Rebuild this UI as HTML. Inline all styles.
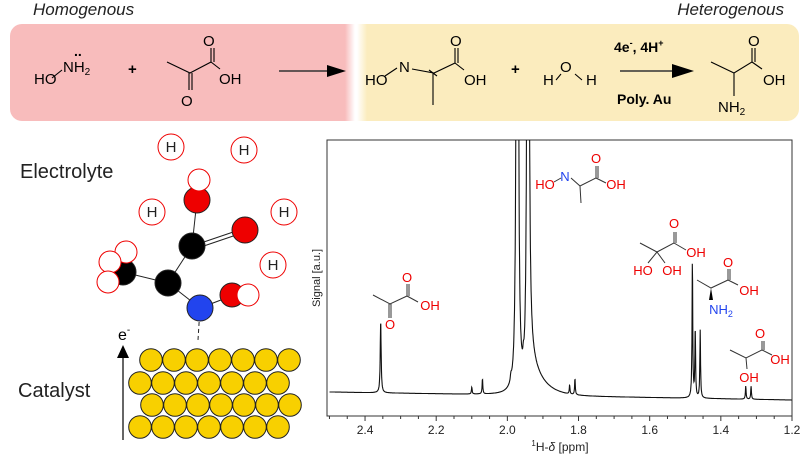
<!DOCTYPE html><html><head><style>
body{margin:0;width:811px;height:456px;background:#fff;overflow:hidden;font-family:"Liberation Sans",sans-serif}
</style></head><body>
<svg width="811" height="456" xmlns="http://www.w3.org/2000/svg" font-family="Liberation Sans, sans-serif">
<defs><linearGradient id="g" x1="0" x2="1"><stop offset="0" stop-color="#f8bcbc"/><stop offset="0.45" stop-color="#fff"/><stop offset="0.55" stop-color="#fff"/><stop offset="1" stop-color="#fbecbe"/></linearGradient></defs>
<text x="33" y="15" font-size="17" font-style="italic" fill="#222">Homogenous</text>
<text x="784" y="15" font-size="17" font-style="italic" fill="#222" text-anchor="end">Heterogenous</text>
<rect x="10" y="24" width="350" height="97" rx="12" fill="#f8bcbc"/>
<rect x="355" y="24" width="444" height="97" rx="12" fill="#fbecbe"/>
<rect x="345" y="24" width="22" height="97" fill="url(#g)"/>
<g font-size="15" fill="#000">
<text x="34" y="84">HO</text><text x="63" y="72">NH<tspan font-size="10" dy="3">2</tspan></text><text x="74" y="56" font-size="14" font-weight="bold">..</text>
<text x="128" y="74" font-weight="bold">+</text>
<text x="219" y="84">OH</text><text x="181" y="106">O</text><text x="203" y="46">O</text>
<text x="365" y="85">HO</text><text x="399" y="72">N</text><text x="464" y="85">OH</text><text x="450" y="46">O</text>
<text x="511" y="74" font-weight="bold">+</text>
<text x="543" y="85">H</text><text x="560" y="72">O</text><text x="586" y="85">H</text>
<text x="763" y="85">OH</text><text x="718" y="112">NH<tspan font-size="10" dy="3">2</tspan></text><text x="748" y="46">O</text>
</g>
<g stroke="#000" stroke-width="1.1" fill="none">
<path d="M385 76 L397 68 M412 69 L434 73 L455 63 L455 48 M458 63 L458 48 M455 63 L464 70 M433 73 L433 105 M429 70 L437 76"/>
<path d="M52 78 L62 70"/>
<path d="M167 62 L190 73 L211 62 L211 48 M214 62 L214 48 M211 62 L220 69 M189 73 L189 90 M192 73 L192 90"/>
<path d="M711 62 L734 73 L752 62 L752 48 M755 62 L755 48 M752 62 L762 69 M734 73 L734 96"/>
<path d="M556 80 L561 74 M575 74 L582 80"/>
</g>
<line x1="279" y1="71" x2="330" y2="71" stroke="#333" stroke-width="1.5"/><path d="M327 65 L346 71 L327 77Z" fill="#000"/>
<line x1="620" y1="71" x2="675" y2="71" stroke="#333" stroke-width="1.5"/><path d="M672 64 L694 71 L672 78Z" fill="#000"/>
<text x="614" y="52" font-size="14" font-weight="bold">4e<tspan font-size="9" dy="-6">-</tspan><tspan dy="6">, 4H</tspan><tspan font-size="9" dy="-6">+</tspan></text>
<text x="617" y="104" font-size="14" font-weight="bold">Poly. Au</text>

<text x="20" y="178" font-size="20" fill="#222">Electrolyte</text>
<text x="18" y="397" font-size="20" fill="#222">Catalyst</text>
<line x1="123" y1="440" x2="123" y2="356" stroke="#000" stroke-width="1.2"/><path d="M117 358 L123 345 L129 358Z"/>
<text x="118" y="340" font-size="16">e<tspan font-size="10" dy="-7">-</tspan></text>
<g fill="#f8d000" stroke="#222" stroke-width="1" id="au"></g>
<g stroke="#222" stroke-width="1">
<line x1="197" y1="200" x2="192" y2="246"/><line x1="192" y1="246" x2="245" y2="228"/><line x1="192" y1="250" x2="245" y2="232"/>
<line x1="192" y1="246" x2="168" y2="283"/><line x1="168" y1="283" x2="123" y2="272"/><line x1="168" y1="283" x2="200" y2="308"/>
<line x1="200" y1="308" x2="234" y2="295"/><line x1="200" y1="308" x2="198" y2="340" stroke-dasharray="4,3"/>
</g>
<g stroke="#e00" fill="#fff">
<circle cx="171" cy="147" r="13"/><circle cx="244" cy="150" r="13"/><circle cx="152" cy="212" r="13"/><circle cx="284" cy="212" r="13"/><circle cx="273" cy="265" r="13"/>
</g>
<g font-size="15" fill="#222" text-anchor="middle"><text x="171" y="152">H</text><text x="244" y="155">H</text><text x="152" y="217">H</text><text x="284" y="217">H</text><text x="273" y="270">H</text></g>
<g stroke="#222">
<circle cx="197" cy="200" r="13" fill="#e00"/><circle cx="199" cy="180" r="11" fill="#fff" stroke="#e00"/>
<circle cx="245" cy="230" r="13" fill="#e00"/>
<circle cx="192" cy="246" r="13" fill="#000"/>
<circle cx="123" cy="272" r="13" fill="#000"/>
<circle cx="126" cy="252" r="11" fill="#fff" stroke="#e00"/><circle cx="110" cy="262" r="11" fill="#fff" stroke="#e00"/><circle cx="108" cy="282" r="11" fill="#fff" stroke="#e00"/>
<circle cx="168" cy="283" r="13" fill="#000"/>
<circle cx="200" cy="308" r="13" fill="#2244ee"/>
<circle cx="232" cy="295" r="12" fill="#e00"/><circle cx="248" cy="295" r="11" fill="#fff" stroke="#e00"/>
</g>

<rect x="327" y="140" width="465" height="276" fill="none" stroke="#333" stroke-width="1"/>
<g id="ticks" stroke="#333"></g>
<g font-size="12" fill="#222" text-anchor="middle" id="tl"></g>
<text x="560" y="451" font-size="12" text-anchor="middle" fill="#222"><tspan font-size="8" dy="-5">1</tspan><tspan dy="5">H-</tspan><tspan font-style="italic">δ</tspan> [ppm]</text>
<text transform="translate(320,278) rotate(-90)" font-size="11" text-anchor="middle" fill="#222">Signal [a.u.]</text>
<clipPath id="c"><rect x="327" y="140" width="465" height="276"/></clipPath>
<path id="sp" clip-path="url(#c)" fill="none" stroke="#111" stroke-width="1.1"/>
<g font-size="13" fill="#e00" text-anchor="middle">
<text x="407" y="282">O</text><text x="430" y="310">OH</text><text x="390" y="329">O</text>
<text x="545" y="189">HO</text><text x="565" y="181" fill="#2244ee">N</text><text x="616" y="189">OH</text><text x="596" y="163">O</text>
<text x="643" y="275">HO</text><text x="672" y="275">OH</text><text x="696" y="257">OH</text><text x="674" y="228">O</text>
<text x="721" y="314" fill="#2244ee">NH<tspan font-size="9" dy="3">2</tspan></text><text x="749" y="295">OH</text><text x="728" y="267">O</text>
<text x="749" y="382">OH</text><text x="780" y="364">OH</text><text x="760" y="338">O</text>
</g>
<g stroke="#333" fill="none" stroke-width="1">
<path d="M373 295 L390 304 L407 296 L407 284 M409 296 L409 284 M407 296 L418 302 M389 304 L389 318 M391 304 L391 318"/>
<path d="M554 182 L561 178 M571 178 L580 186 L596 178 L596 166 M598 178 L598 166 M596 178 L606 183 M580 186 L581 203"/>
<path d="M640 243 L657 252 L674 243 L674 232 M676 243 L676 232 M674 243 L686 250 M657 252 L648 263 M657 252 L665 263"/>
<path d="M697 280 L711 288 L728 280 L728 269 M730 280 L730 269 M728 280 L738 285"/>
<path d="M730 350 L746 358 L762 350 L762 341 M764 350 L764 341 M762 350 L772 355 M746 358 L747 369"/>
</g>
<path d="M711 288 L709 300 L713 300Z" fill="#000"/>
</svg>
<script>
var au=document.getElementById('au'),s='';
var rows=[[151,360],[140,383],[152,405],[140,427]];
rows.forEach(function(r){for(var i=0;i<7;i++)s+='<circle cx="'+(r[0]+i*23)+'" cy="'+r[1]+'" r="11.3"/>';});
au.innerHTML=s;
function X(p){return 792-(p-1.2)*355.8;}
var t='',tl='';
for(var p=1.2;p<=2.5001;p+=0.05){var x=X(p),big=Math.abs(Math.round(p*10)-p*10)<0.01&&Math.round(p*10)%2==0;t+='<line x1="'+x+'" x2="'+x+'" y1="416" y2="'+(big?421:419)+'"/>';if(big&&p<2.45)tl+='<text x="'+x+'" y="434">'+p.toFixed(1)+'</text>';}
document.getElementById('ticks').innerHTML=t;document.getElementById('tl').innerHTML=tl;
var pk=[[2.356,72,0.0015],[2.10,7,0.0012],[2.07,15,0.0012],[1.99,6,0.002],[1.978,8,0.002],[1.972,5000,0.001],[1.955,8,0.0015],[1.942,5000,0.001],[1.825,9,0.0012],[1.81,16,0.0012],[1.48,135,0.0012],[1.472,68,0.0012],[1.458,68,0.0012],[1.33,13,0.0012],[1.315,13,0.0012]];
var d='';
for(var i=0;i<=2000;i++){var p=2.5-i*1.3/2000;var y=392+(2.5-p)/1.3*8;
pk.forEach(function(k){var u=(p-k[0])/k[2];y-=k[1]/(1+u*u);});
if(p<1.94&&p>1.6)y-=45*Math.exp(-(1.94-p)/0.035);
d+=(i?'L':'M')+X(p).toFixed(1)+' '+Math.max(y,100).toFixed(1);}
document.getElementById('sp').setAttribute('d',d);
</script>
</body></html>
